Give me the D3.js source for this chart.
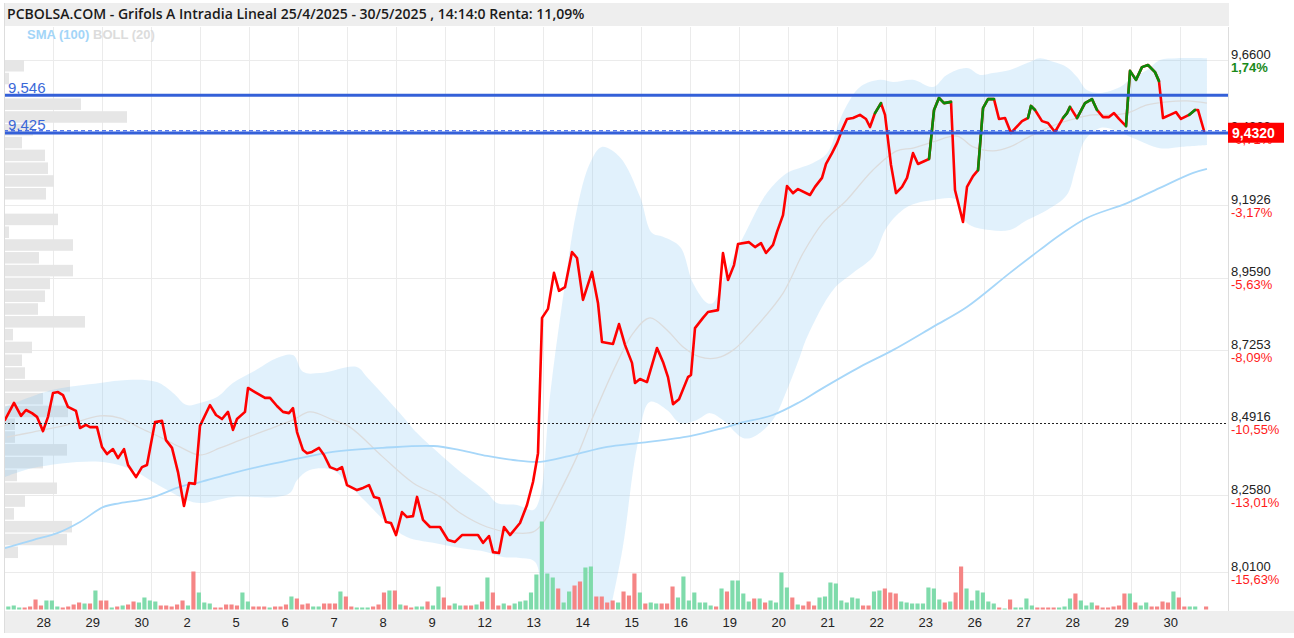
<!DOCTYPE html>
<html><head><meta charset="utf-8">
<script src="https://cdn.jsdelivr.net/npm/d3@7"></script>
<style>
html,body{margin:0;padding:0;background:#fff;}
svg{display:block;}
</style></head><body>
<svg id="c" width="1294" height="638"></svg>
<script>
// ---------------- DATA ----------------
const title = "PCBOLSA.COM - Grifols A Intradia Lineal 25/4/2025 - 30/5/2025 , 14:14:0 Renta: 11,09%";
const legendItems = ["SMA (100)", "BOLL (20)"];
const dayLabels = ["28","29","30","2","5","6","7","8","9","12","13","14","15","16","19","20","21","22","23","26","27","28","29","30"];
const priceTicks = [9.66, 9.4263, 9.1926, 8.959, 8.7253, 8.4916, 8.258, 8.01];
const priceTickLabels = ["9,6600","9,4263","9,1926","8,9590","8,7253","8,4916","8,2580","8,0100"];
const pctTickLabels = ["1,74%","-0,71%","-3,17%","-5,63%","-8,09%","-10,55%","-13,01%","-15,63%"];
const pctTickValues = [1.74,-0.71,-3.17,-5.63,-8.09,-10.55,-13.01,-15.63];
const levels = [9.546, 9.425];
const levelLabels = ["9,546", "9,425"];
const refLevel = 8.4916;
const lastPrice = 9.432;
const lastPriceLabel = "9,4320";

// price line: time in trading days since 25/4 open, price in EUR
const priceT = [0.02,0.204,0.347,0.449,0.571,0.673,0.796,0.898,1.0,1.102,
1.204,1.306,1.469,1.551,1.673,1.755,1.898,2.0,2.102,2.224,
2.327,2.449,2.531,2.694,2.816,2.918,3.082,3.224,3.306,3.429,
3.551,3.673,3.776,3.898,4.0,4.204,4.327,4.449,4.571,4.673,
4.755,4.918,4.98,5.122,5.327,5.429,5.571,5.694,5.816,5.898,
5.98,6.102,6.184,6.286,6.429,6.531,6.653,6.796,6.898,7.0,
7.204,7.327,7.449,7.551,7.653,7.796,7.898,8.0,8.122,8.224,
8.347,8.429,8.551,8.694,8.898,9.061,9.204,9.347,9.673,9.776,
9.898,9.98,10.102,10.204,10.327,10.531,10.673,10.796,10.898,10.98,
11.102,11.224,11.327,11.449,11.592,11.694,11.816,12.0,12.122,12.204,
12.429,12.551,12.673,12.816,12.878,12.98,13.122,13.327,13.449,13.551,
13.653,13.776,13.959,14.02,14.102,14.265,14.367,14.571,14.673,14.776,
14.898,14.98,15.204,15.327,15.449,15.551,15.694,15.776,15.898,15.98,
16.102,16.204,16.449,16.551,16.694,16.776,16.898,17.0,17.102,17.204,
17.327,17.469,17.592,17.673,17.776,17.898,17.98,18.102,18.204,18.327,
18.429,18.551,18.653,18.878,18.98,19.082,19.184,19.327,19.408,19.571,
19.653,19.776,19.878,19.98,20.082,20.204,20.306,20.429,20.551,20.776,
20.898,20.959,21.041,21.184,21.306,21.449,21.612,21.694,21.755,21.898,
22.061,22.204,22.306,22.429,22.551,22.653,22.755,22.898,22.98,23.102,
23.224,23.347,23.49,23.571,23.653,23.796,23.918,24.02,24.184,24.306,
24.367,24.49];
const priceV = [8.500,8.555,8.513,8.532,8.522,8.510,8.464,8.510,8.587,8.590,
8.580,8.542,8.529,8.474,8.484,8.477,8.477,8.413,8.390,8.406,
8.377,8.406,8.355,8.316,8.348,8.355,8.493,8.497,8.435,8.410,
8.332,8.223,8.297,8.294,8.481,8.548,8.516,8.503,8.526,8.468,
8.503,8.526,8.603,8.590,8.571,8.571,8.545,8.526,8.522,8.538,
8.461,8.403,8.393,8.397,8.410,8.387,8.348,8.339,8.348,8.290,
8.274,8.281,8.290,8.252,8.248,8.171,8.168,8.129,8.203,8.187,
8.190,8.252,8.178,8.155,8.155,8.113,8.107,8.129,8.129,8.104,
8.126,8.074,8.071,8.155,8.129,8.168,8.226,8.300,8.393,8.829,
8.858,8.974,8.916,8.928,9.041,9.022,8.887,8.977,8.877,8.751,
8.745,8.809,8.742,8.684,8.619,8.632,8.622,8.732,8.687,8.638,
8.551,8.567,8.638,8.645,8.796,8.829,8.848,8.854,9.038,8.951,
8.999,9.067,9.073,9.057,9.070,9.038,9.064,9.106,9.160,9.254,
9.231,9.244,9.225,9.251,9.280,9.325,9.360,9.392,9.434,9.470,
9.473,9.483,9.470,9.444,9.489,9.521,9.483,9.322,9.231,9.251,
9.280,9.360,9.325,9.341,9.499,9.538,9.521,9.525,9.241,9.138,
9.251,9.286,9.305,9.505,9.534,9.534,9.470,9.473,9.425,9.463,
9.473,9.512,9.499,9.463,9.457,9.428,9.473,9.489,9.509,9.473,
9.521,9.534,9.499,9.476,9.476,9.489,9.470,9.447,9.625,9.596,
9.637,9.644,9.621,9.592,9.473,9.483,9.492,9.470,9.483,9.499,
9.499,9.432];
// periods where the signal is on (line drawn green), in trading days
const signalOn = [[17.776,17.898],[18.878,19.327],[19.878,20.204],[20.898,21.041],
[21.612,21.755],[21.898,22.306],[22.898,23.571],[24.184,24.306]];

// Bollinger (20) upper / middle / lower
const upperT = [0.02,1.0,1.96,2.51,3.12,3.45,3.73,4.0,4.35,4.67,5.08,5.57,5.9,6.1,6.45,7.2,7.41,8.08,8.43,8.96,9.45,9.86,10.06,10.47,10.8,10.94,11.14,11.41,11.69,11.96,12.2,12.57,12.98,13.22,13.45,13.8,14.06,14.35,14.47,14.76,15.16,15.57,15.98,16.24,16.51,16.8,17.12,17.47,17.88,18.14,18.55,18.96,19.24,19.65,19.92,20.18,20.53,20.88,21.14,21.41,21.69,21.9,22.1,22.37,22.78,23.04,23.33,23.59,23.94,24.55];
const upperV = [8.542,8.597,8.619,8.629,8.622,8.587,8.548,8.555,8.574,8.619,8.655,8.700,8.709,8.655,8.651,8.671,8.638,8.522,8.458,8.381,8.316,8.265,8.232,8.226,8.210,8.252,8.574,8.896,9.177,9.328,9.380,9.347,9.219,9.103,9.090,9.057,8.941,8.877,8.877,8.983,9.112,9.231,9.296,9.312,9.328,9.360,9.489,9.573,9.596,9.589,9.596,9.573,9.612,9.634,9.612,9.618,9.628,9.650,9.666,9.654,9.637,9.605,9.563,9.554,9.573,9.605,9.628,9.660,9.666,9.666];
const lowerT = [0.02,0.59,1.96,2.63,2.98,3.33,3.73,4.0,4.67,5.57,5.84,5.98,6.24,6.71,7.0,7.41,7.82,8.22,8.76,9.31,9.86,10.18,10.53,10.84,10.98,11.24,11.65,11.96,12.22,12.37,12.63,12.92,13.18,13.53,13.8,14.14,14.41,14.67,15.08,15.29,15.69,15.98,16.24,16.39,16.92,17.33,17.73,18.02,18.43,18.96,19.45,19.65,20.12,20.53,20.88,21.29,21.69,21.86,22.06,22.37,22.67,23.04,23.59,24.0,24.55];
const lowerV = [8.316,8.345,8.365,8.339,8.306,8.274,8.242,8.232,8.252,8.252,8.265,8.306,8.339,8.339,8.297,8.232,8.168,8.123,8.104,8.087,8.074,8.058,8.055,8.042,7.855,7.662,7.565,7.598,7.759,7.881,8.091,8.413,8.558,8.532,8.490,8.500,8.522,8.500,8.442,8.445,8.500,8.597,8.703,8.767,8.919,8.974,9.025,9.122,9.186,9.209,9.209,9.135,9.112,9.112,9.144,9.177,9.225,9.305,9.402,9.441,9.434,9.409,9.376,9.380,9.386];
const midT = [0.06,0.59,1.29,1.96,2.37,2.78,3.18,3.59,4.0,4.41,4.82,5.37,5.9,6.24,6.71,7.06,7.73,8.35,8.9,9.31,9.86,10.39,10.8,11.0,11.29,11.69,12.02,12.51,12.84,13.18,13.53,13.86,14.2,14.55,14.88,15.29,15.9,16.31,16.71,17.2,17.73,18.22,18.55,18.96,19.45,19.78,20.18,20.53,20.88,21.2,21.55,21.9,22.22,22.57,22.92,23.33,23.73,24.14,24.55];
const midV = [8.445,8.461,8.484,8.513,8.506,8.474,8.445,8.413,8.387,8.410,8.435,8.468,8.500,8.526,8.500,8.477,8.381,8.297,8.252,8.200,8.155,8.136,8.139,8.168,8.252,8.381,8.510,8.684,8.780,8.829,8.790,8.735,8.703,8.700,8.725,8.790,8.909,9.038,9.135,9.209,9.305,9.367,9.376,9.396,9.415,9.380,9.367,9.380,9.409,9.434,9.457,9.473,9.483,9.483,9.489,9.515,9.525,9.528,9.521];
// SMA (100)
const smaT = [0.02,0.59,1.1,1.55,2.02,2.37,2.98,3.59,4.0,4.67,5.37,6.04,6.71,7.73,8.76,9.31,9.86,10.39,10.94,11.61,12.31,12.98,14.0,14.67,15.02,15.69,16.24,16.65,17.47,18.14,18.96,19.65,20.53,21.14,21.55,22.1,22.92,23.59,24.27,24.55];
const smaV = [8.087,8.113,8.136,8.171,8.219,8.232,8.248,8.284,8.300,8.329,8.355,8.377,8.397,8.410,8.416,8.403,8.384,8.371,8.365,8.387,8.413,8.426,8.448,8.474,8.490,8.516,8.558,8.597,8.671,8.725,8.800,8.864,8.974,9.048,9.096,9.151,9.199,9.248,9.296,9.309];

// hourly volume (relative units), 9 bars per session
const volumes = [3,4,2,2,3,10,4,9,9,3, 2,3,5,7,6,6,19,9,9,2, 3,4,5,8,7,12,9,8,4,4,
3,5,9,4,38,17,7,6,2,2, 5,5,4,17,8,3,3,3,2,3, 3,5,13,11,5,6,3,3,6,6,
6,18,13,3,2,2,2,3,5,17, 19,19,5,4,2,3,3,8,4,23, 12,4,6,4,4,4,5,8,32,17,
4,6,4,6,8,9,17,35,88,36, 32,21,7,18,24,28,42,43,13,13, 7,9,7,18,14,36,17,6,7,6,
6,6,23,12,33,9,17,7,7,4, 3,21,18,29,29,16,8,11,11,7, 9,7,37,22,12,5,4,8,4,12,
13,27,26,9,7,12,11,4,4,18, 19,21,17,16,8,7,6,6,6,22, 21,10,7,8,17,43,21,9,19,17,
8,6,2,1,10,2,2,11,4,2, 2,2,2,2,3,11,16,9,4,7, 4,2,2,3,4,16,16,7,4,7,
3,3,8,7,18,12,3,3,3,0, 3];
// direction of each bar: u = up, d = down
const volDir = ("uuudddduuu"+"ddddududdu"+"duddudduuuudd".slice(0,0)+"duddudduuuudd".slice(0,0)+
"duudduuudd".slice(0,0)+"" );
const volDirStr = "uuudddduuu"+"ddddududdu"+"duddudduuudd".slice(0,0)+"duddduuuudd".slice(0,0);
const volUp = ("gggrrrrggg"+"rrrrgrgrrg"+"rgrrggggrr"+"rrrgrgggrr"+"rrrggrrrgr"+
"rrgrrrggrr"+"rgrrgggrrr"+"grgrrggrgg"+"rrggrrgrgr"+"rgrggggggg"+
"grggrrggrr"+"rrgrrrgrgg"+"rrrggggggg"+"rgrggggrgr"+"ggggrgrrrg"+
"gggggggrrg"+"grrrgggggg"+"ggrgrrgggg"+"ggrgrggggr"+"rrrgggrggg"+
"rrrrrrgrgg"+"rrrrgrrggg"+"r").split("").map(c => c === "g");

// price-level volume profile (top bin first, from 9,66 down to 8,055)
const profile = [19,4,0,76,122,28,17,40,43,49,41,0,53,4,68,34,68,45,40,33,80,8,27,17,20,65,38,63,10,10,62,38,12,52,20,9,67,62,13];
const profileTop = 9.66, profileBottom = 8.055;

// ---------------- DRAWING ----------------
const L = 4, R = 1229, T = 27, B = 610;
const svg = d3.select("#c");
const x = d3.scaleLinear().domain([0, 25]).range([L, R]);
const y = d3.scaleLinear().domain([8.01, 9.66]).range([572, 60]);
const vy = d3.scaleLinear().domain([0, 88]).range([609.5, 521.5]);
const px = d3.scaleLinear().domain([0, 100]).range([0, 100]);
const FONT = "'Liberation Sans', Arial, sans-serif";

svg.append("defs").append("clipPath").attr("id", "plot")
  .append("rect").attr("x", L).attr("y", T).attr("width", R - L).attr("height", B - T);

// title band & x-axis band
svg.append("rect").attr("x", L).attr("y", 3).attr("width", R - L).attr("height", 23).attr("fill", "#eeeeee");
svg.append("rect").attr("x", L).attr("y", 611).attr("width", 1294 - L).attr("height", 22).attr("fill", "#eeeeee");

// grid
const grid = svg.append("g");
d3.range(1, 25).forEach(k => {
  grid.append("line").attr("x1", x(k) + 0.5).attr("x2", x(k) + 0.5).attr("y1", T).attr("y2", B)
    .attr("stroke", "#ebebeb").attr("stroke-width", 1);
});
priceTicks.forEach(v => {
  if (v === refLevel) return;
  grid.append("line").attr("x1", L).attr("x2", R).attr("y1", Math.round(y(v)) + 0.5).attr("y2", Math.round(y(v)) + 0.5)
    .attr("stroke", "#ebebeb").attr("stroke-width", 1);
});

const plot = svg.append("g").attr("clip-path", "url(#plot)");

// volume profile
const pb = d3.scaleBand().domain(d3.range(profile.length)).range([y(profileTop), y(profileBottom)]).paddingInner(0.1);
plot.append("g").selectAll("rect").data(profile).join("rect")
  .attr("x", L + 1).attr("y", (d, i) => pb(i)).attr("height", pb.bandwidth())
  .attr("width", d => px(d)).attr("fill", "#e6e6e6");

// Bollinger band fill
const upper = upperT.map((t, i) => [t, upperV[i]]);
const lower = lowerT.map((t, i) => [t, lowerV[i]]);
const mid = midT.map((t, i) => [t, midV[i]]);
const sma = smaT.map((t, i) => [t, smaV[i]]);
const smooth = d3.line().x(d => x(d[0])).y(d => y(d[1])).curve(d3.curveCatmullRom.alpha(0.5));
const bandPath = smooth(upper) + smooth(lower.slice().reverse()).replace(/^M/, "L") + "Z";
plot.append("path").attr("d", bandPath).attr("fill", "rgba(128,198,244,0.24)").attr("stroke", "none");
plot.append("path").attr("d", smooth(mid)).attr("fill", "none").attr("stroke", "#dcdcdc").attr("stroke-width", 1.3);
plot.append("path").attr("d", smooth(sma)).attr("fill", "none").attr("stroke", "#a7d7f9").attr("stroke-width", 1.8);

// volume bars
const volStart = 0.088, barsPerDay = 9;
const bw = x(1 / barsPerDay) - x(0) - 1.3;
svg.append("g").selectAll("rect").data(volumes).join("rect")
  .attr("x", (d, i) => x(volStart + i / barsPerDay) - bw / 2)
  .attr("width", bw)
  .attr("y", d => vy(d)).attr("height", d => vy(0) - vy(d))
  .attr("fill", (d, i) => volUp[i] ? "#7fdbab" : "#f58585");

// reference dotted line
svg.append("line").attr("x1", L).attr("x2", R).attr("y1", Math.round(y(refLevel)) + 0.5).attr("y2", Math.round(y(refLevel)) + 0.5)
  .attr("stroke", "#222").attr("stroke-width", 1).attr("stroke-dasharray", "2,2");

// level lines
levels.forEach((v, i) => {
  svg.append("line").attr("x1", L).attr("x2", R).attr("y1", y(v)).attr("y2", y(v))
    .attr("stroke", "#3460d8").attr("stroke-width", 3);
  svg.append("text").attr("x", 8).attr("y", y(v) - 2.5).text(levelLabels[i])
    .attr("font-family", FONT).attr("font-size", 15).attr("fill", "#3b68d8");
});
svg.append("line").attr("x1", L).attr("x2", R).attr("y1", y(lastPrice)).attr("y2", y(lastPrice))
  .attr("stroke", "#1f4ee6").attr("stroke-width", 1.2).attr("stroke-dasharray", "4,3");

// price line
const pts = priceT.map((t, i) => [t, priceV[i]]);
const line = d3.line().x(d => x(d[0])).y(d => y(d[1]));
plot.append("path").attr("d", line(pts)).attr("fill", "none").attr("stroke", "#ff0000")
  .attr("stroke-width", 2.6).attr("stroke-linejoin", "round").attr("stroke-linecap", "round");
signalOn.forEach(([a, b]) => {
  const seg = pts.filter(p => p[0] >= a - 1e-6 && p[0] <= b + 1e-6);
  plot.append("path").attr("d", line(seg)).attr("fill", "none").attr("stroke", "#0a8a0a")
    .attr("stroke-width", 2.6).attr("stroke-linejoin", "round").attr("stroke-linecap", "round");
});

// borders
svg.append("line").attr("x1", L + 0.5).attr("x2", L + 0.5).attr("y1", 3).attr("y2", 633).attr("stroke", "#dddddd");
svg.append("line").attr("x1", R - 0.5).attr("x2", R - 0.5).attr("y1", T).attr("y2", 611).attr("stroke", "#dddddd");

// x axis
const xAxis = d3.axisBottom(x).tickValues(d3.range(1, 25)).tickFormat((d, i) => dayLabels[i]).tickSize(0).tickPadding(0);
const gx = svg.append("g").attr("transform", "translate(0,611)").call(xAxis);
gx.select(".domain").remove();
gx.selectAll("text").attr("dy", null).attr("y", 16).attr("x", -17).attr("text-anchor", "start")
  .attr("font-family", FONT).attr("font-size", 13).attr("fill", "#222");

// y axis (right)
const yAxis = d3.axisRight(y).tickValues(priceTicks).tickFormat((d, i) => priceTickLabels[i]).tickSize(0).tickPadding(2);
const gy = svg.append("g").attr("transform", `translate(${R},0)`).call(yAxis);
gy.select(".domain").remove();
gy.selectAll("text").attr("dy", null).attr("y", -2)
  .attr("font-family", FONT).attr("font-size", 13).attr("fill", "#222");
gy.selectAll(".tick").append("text").attr("x", 2).attr("y", 11)
  .text((d, i) => pctTickLabels[i])
  .attr("font-family", FONT).attr("font-size", 13)
  .attr("font-weight", (d, i) => pctTickValues[i] > 0 ? "bold" : "normal")
  .attr("fill", (d, i) => pctTickValues[i] > 0 ? "#1a8a1a" : "#ff1a1a");

// last price box
const ly = y(lastPrice) + 2;
svg.append("rect").attr("x", R - 1).attr("y", ly - 10).attr("width", 56).attr("height", 20).attr("fill", "#ff0000");
svg.append("text").attr("x", R + 3).attr("y", ly + 5).text(lastPriceLabel)
  .attr("font-family", FONT).attr("font-size", 14).attr("font-weight", "bold").attr("fill", "#fff");

// title
const tt = svg.append("text").attr("x", 7).attr("y", 19).text(title)
  .attr("font-family", "'Open Sans', 'Noto Sans', sans-serif").attr("font-weight", 600).attr("font-size", 13).attr("fill", "#1a1a1a");
const tw = tt.node().getComputedTextLength();
tt.attr("font-size", 13 * 578 / tw);

// legend
const lg = svg.append("text").attr("x", 27).attr("y", 39).attr("font-family", FONT).attr("font-size", 13).attr("font-weight", "bold");
lg.append("tspan").text(legendItems[0]).attr("fill", "#a3d5f8");
lg.append("tspan").text(" " + legendItems[1]).attr("fill", "#dcdcdc");
</script>
</body></html>
